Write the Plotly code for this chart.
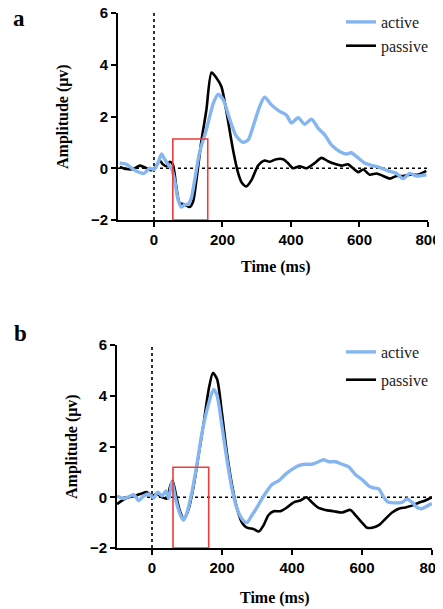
import plotly.graph_objects as go

# ---------------- data ----------------
# Panel a
t_a_active = [-100, -80, -60, -30, -12, 0, 12, 22, 31, 41, 51, 60, 70, 80, 90, 99, 109, 119, 133, 153,
              173, 187, 202, 221, 240, 260, 275, 289, 309, 323, 343, 367, 387, 401, 421, 440, 460, 479,
              498, 518, 542, 562, 576, 596, 615, 639, 664, 683, 708, 727, 747, 766, 795]
v_a_active = [0.2, 0.15, -0.05, -0.2, 0.0, -0.05, 0.2, 0.55, 0.35, 0.15, 0.0, -0.45, -1.2, -1.5, -1.4, -1.4,
              -1.15, -0.45, 0.6, 1.5, 2.5, 2.85, 2.65, 1.9, 1.25, 1.0, 1.1, 1.6, 2.4, 2.75, 2.45, 2.2, 2.05,
              1.75, 1.95, 1.7, 1.9, 1.55, 1.3, 0.9, 0.65, 0.55, 0.6, 0.4, 0.2, 0.1, 0.0, -0.1, -0.2, -0.4,
              -0.2, -0.3, -0.25]

t_a_passive = [-100, -80, -60, -41, -22, -8, 2, 17, 26, 36, 46, 55, 65, 75, 90, 104, 114, 124, 139, 153,
               168, 182, 197, 212, 231, 246, 256, 270, 285, 304, 323, 338, 357, 377, 391, 406, 425, 445,
               469, 489, 508, 527, 547, 567, 581, 596, 611, 630, 650, 669, 689, 708, 727, 747, 771, 795]
v_a_passive = [0.05, -0.03, -0.03, 0.1, 0.0, -0.08, 0.0, 0.3, 0.15, 0.08, 0.25, 0.15, -0.7, -1.35, -1.4,
               -1.5, -1.3, -0.45, 1.1, 2.25, 3.7, 3.5, 3.15, 2.15, 0.7, -0.2, -0.55, -0.7, -0.45, 0.1, 0.3,
               0.25, 0.35, 0.35, 0.2, 0.0, 0.08, 0.0, 0.2, 0.4, 0.27, 0.17, 0.1, 0.15, 0.0, -0.15, -0.05,
               -0.25, -0.2, -0.3, -0.4, -0.3, -0.3, -0.25, -0.25, -0.1]

# Panel b
t_b_active = [-100, -81, -62, -52, -38, -24, -10, 5, 16, 29, 40, 48, 57, 67, 81, 90, 100, 114, 129, 143,
              162, 176, 186, 200, 214, 229, 243, 257, 271, 286, 300, 319, 343, 362, 381, 400, 419, 438,
              457, 476, 490, 505, 524, 543, 562, 581, 600, 619, 633, 648, 662, 676, 695, 714, 729, 743,
              757, 771, 786, 800]
v_b_active = [0.05, -0.05, 0.05, 0.1, -0.13, 0.05, 0.13, -0.03, 0.2, 0.05, 0.25, -0.05, 0.6, -0.05, -0.7,
              -0.9, -0.6, 0.2, 1.35, 2.55, 3.7, 4.25, 4.0, 2.8, 1.5, 0.3, -0.45, -0.85, -1.0, -0.7, -0.4,
              0.05, 0.5, 0.65, 0.9, 1.1, 1.25, 1.3, 1.3, 1.4, 1.48, 1.4, 1.4, 1.3, 1.2, 0.9, 0.7, 0.45,
              0.37, 0.33, 0.0, -0.2, -0.22, -0.2, -0.07, -0.2, -0.4, -0.45, -0.35, -0.25]

t_b_passive = [-100, -86, -67, -52, -33, -14, 0, 14, 29, 43, 52, 59, 69, 81, 92, 105, 119, 133, 148, 162,
               174, 186, 200, 214, 229, 243, 257, 271, 290, 305, 319, 333, 348, 367, 386, 405, 424, 441,
               457, 476, 495, 519, 543, 567, 581, 600, 614, 629, 648, 667, 686, 705, 724, 743, 762, 781, 800]
v_b_passive = [-0.27, -0.13, 0.0, 0.05, 0.13, 0.2, 0.05, 0.13, 0.0, -0.05, 0.45, 0.65, 0.05, -0.6, -0.85,
               -0.45, 0.45, 1.65, 2.95, 4.25, 4.9, 4.65, 3.3, 1.75, 0.45, -0.45, -1.0, -1.2, -1.25, -1.35,
               -1.1, -0.7, -0.55, -0.55, -0.4, -0.2, -0.13, 0.0, -0.2, -0.42, -0.5, -0.55, -0.6, -0.5, -0.7,
               -1.0, -1.2, -1.2, -1.1, -0.85, -0.6, -0.45, -0.4, -0.33, -0.22, -0.13, 0.0]

# highlighted window (ms, µV)
win_a = [55, 157, -2, 1.13]
win_b = [60, 162, -2, 1.18]

x_ticks = [0, 200, 400, 600, 800]
y_ticks = [-2, 0, 2, 4, 6]

# ---------------- styling ----------------
BLUE = "#85b6ef"
BLACK = "#000000"
OFF = 8                      # page body margin in the browser
FW, FH = 443 - OFF, 609 - OFF
SANS = "Liberation Sans, Arial, sans-serif"
SERIF = "Liberation Serif, Times New Roman, serif"


def px(x):  # window pixel -> paper x
    return (x - OFF) / FW


def py(y):  # window pixel (from top) -> paper y
    return 1 - (y - OFF) / FH


fig = go.Figure()


def add_panel(ta, va, tp, vp, xa, ya, legend):
    fig.add_trace(go.Scatter(x=tp, y=vp, mode="lines", name="passive", legendgroup=legend + "p",
                             line=dict(color=BLACK, width=2.6, shape="spline", smoothing=0.7),
                             xaxis=xa, yaxis=ya, legend=legend, legendrank=2))
    fig.add_trace(go.Scatter(x=ta, y=va, mode="lines", name="active", legendgroup=legend + "a",
                             line=dict(color=BLUE, width=3.4, shape="spline", smoothing=0.7),
                             xaxis=xa, yaxis=ya, legend=legend, legendrank=1))


add_panel(t_a_active, v_a_active, t_a_passive, v_a_passive, "x", "y", "legend")
add_panel(t_b_active, v_b_active, t_b_passive, v_b_passive, "x2", "y2", "legend2")

axis_common = dict(showline=True, linecolor="black", linewidth=2, ticks="outside",
                   ticklen=5, tickwidth=2, tickcolor="black", showgrid=False, zeroline=False,
                   automargin=False, ticklabeloverflow="allow",
                   tickfont=dict(family=SANS, size=15, color="black", weight="bold"))

fig.update_layout(
    width=FW, height=FH, margin=dict(l=0, r=0, t=0, b=0, autoexpand=False),
    paper_bgcolor="white", plot_bgcolor="white",
    xaxis=dict(domain=[px(118), px(428)], range=[-105, 800], tickvals=x_ticks, anchor="y", **axis_common),
    yaxis=dict(domain=[py(220), py(13)], range=[-2, 6], tickvals=y_ticks, anchor="x", **axis_common),
    xaxis2=dict(domain=[px(117), px(432)], range=[-100, 800], tickvals=x_ticks, anchor="y2", **axis_common),
    yaxis2=dict(domain=[py(548), py(345)], range=[-2, 6], tickvals=y_ticks, anchor="x2", **axis_common),
    legend=dict(x=px(341), y=py(5), xanchor="left", yanchor="top", bgcolor="rgba(0,0,0,0)",
                font=dict(family=SERIF, size=16, color="#222"), tracegroupgap=0),
    legend2=dict(x=px(341), y=py(335), xanchor="left", yanchor="top", bgcolor="rgba(0,0,0,0)",
                 font=dict(family=SERIF, size=16, color="#222"), tracegroupgap=4),
    showlegend=True,
)

# zero reference lines and highlighted windows
for xa, ya, rng, win in (("x", "y", -105, win_a), ("x2", "y2", -100, win_b)):
    fig.add_shape(type="line", xref=xa, yref=ya, x0=0, x1=0, y0=-2, y1=6,
                  line=dict(color="black", width=1.6, dash="dot"), layer="below")
    fig.add_shape(type="line", xref=xa, yref=ya, x0=rng, x1=800, y0=0, y1=0,
                  line=dict(color="black", width=1.6, dash="dot"), layer="below")
    fig.add_shape(type="rect", xref=xa, yref=ya, x0=win[0], x1=win[1], y0=win[2], y1=win[3],
                  line=dict(color="#ee3b3b", width=1.6), fillcolor="rgba(0,0,0,0)", layer="above")


# texts: panel letters, axis titles
def ann(text, x, y, size, angle=0, family=SERIF):
    fig.add_annotation(text=text, x=px(x), y=py(y), xref="paper", yref="paper",
                       showarrow=False, textangle=angle, xanchor="center", yanchor="middle",
                       font=dict(family=family, size=size, color="black", weight="bold"))


ann("a", 19, 19, 23)
ann("b", 20, 333, 23)
ann("Amplitude (μv)", 63, 117, 16, angle=-90)
ann("Amplitude (μv)", 72, 447, 16, angle=-90)
ann("Time (ms)", 275, 267, 16)
ann("Time (ms)", 274, 598, 16)

fig.write_html("out.html")
